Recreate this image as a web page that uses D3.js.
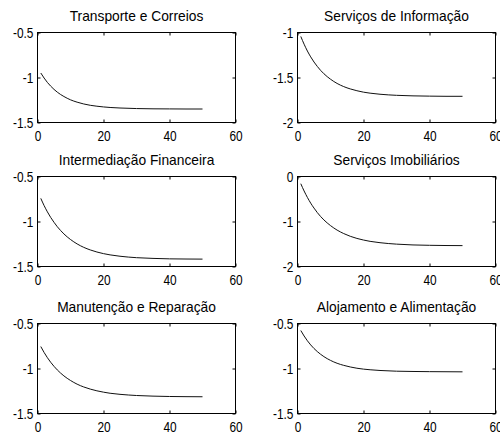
<!DOCTYPE html>
<html lang="en">
<head>
<meta charset="UTF-8">
<title>Respostas acumuladas por setor</title>
<script src="https://d3js.org/d3.v7.min.js"></script>
<style>
    body { margin: 0; background: #fff; }
    svg { display: block; font-family: "Liberation Sans", Arial, sans-serif; }
    .tick text { fill: #000; font-size: 14.5px; }
    .tick line { stroke: #000; }
    .title { font-size: 15px; fill: #000; }
</style>
</head>
<body>
<svg id="chart" width="500" height="435"></svg>
<script>
// horizons shared by all panels
const steps = [1, 2, 3, 4, 5, 6, 7, 8, 10, 12, 14, 16, 18, 20, 22, 25, 30, 35, 40, 45, 50];

const transporte = [-0.95, -1.006, -1.055, -1.096, -1.132, -1.163, -1.189, -1.211, -1.248, -1.274, -1.294, -1.309, -1.319, -1.327, -1.333, -1.339, -1.345, -1.348, -1.349, -1.35, -1.35];
const informacao = [-1.044, -1.13, -1.206, -1.271, -1.328, -1.377, -1.421, -1.458, -1.519, -1.566, -1.601, -1.627, -1.647, -1.663, -1.674, -1.686, -1.698, -1.704, -1.707, -1.709, -1.709];
const financeira = [-0.743, -0.823, -0.893, -0.955, -1.009, -1.058, -1.1, -1.138, -1.2, -1.249, -1.287, -1.316, -1.339, -1.357, -1.371, -1.386, -1.402, -1.41, -1.415, -1.417, -1.418];
const imobiliarios = [-0.16, -0.322, -0.465, -0.592, -0.702, -0.802, -0.889, -0.965, -1.091, -1.191, -1.268, -1.329, -1.376, -1.412, -1.441, -1.471, -1.503, -1.521, -1.529, -1.534, -1.536];
const manutencao = [-0.756, -0.822, -0.88, -0.931, -0.976, -1.016, -1.051, -1.082, -1.133, -1.174, -1.205, -1.229, -1.248, -1.263, -1.275, -1.287, -1.3, -1.307, -1.311, -1.313, -1.314];
const alojamento = [-0.578, -0.639, -0.692, -0.738, -0.778, -0.812, -0.842, -0.868, -0.91, -0.942, -0.965, -0.983, -0.997, -1.007, -1.014, -1.022, -1.03, -1.033, -1.035, -1.036, -1.037];

const titles = ["Transporte e Correios", "Serviços de Informação", "Intermediação Financeira",
                "Serviços Imobiliários", "Manutenção e Reparação", "Alojamento e Alimentação"];
const series = [transporte, informacao, financeira, imobiliarios, manutencao, alojamento];
const yDomains = [[-1.5, -0.5], [-2, -1], [-1.5, -0.5], [-2, 0], [-1.5, -0.5], [-1.5, -0.5]];
const yTicks = [[-1.5, -1, -0.5], [-2, -1.5, -1], [-1.5, -1, -0.5], [-2, -1, 0], [-1.5, -1, -0.5], [-1.5, -1, -0.5]];
const xDomain = [0, 60];
const xTicks = [0, 20, 40, 60];

const svg = d3.select("#chart");
const colLeft = [37, 297];
const rowTop = [32, 176, 323];
const pw = 198, ph = 90;

series.forEach((values, i) => {
    const g = svg.append("g")
        .attr("transform", `translate(${colLeft[i % 2] + 0.5},${rowTop[Math.floor(i / 2)] + 0.5})`);

    const x = d3.scaleLinear().domain(xDomain).range([0, pw]);
    const y = d3.scaleLinear().domain(yDomains[i]).range([ph, 0]);
    const fmt = d => String(d);

    // ticks point inward on all four sides
    g.append("g").attr("transform", `translate(0,${ph})`)
        .call(d3.axisBottom(x).tickValues(xTicks).tickSize(-3).tickPadding(8).tickFormat(fmt))
        .call(a => a.select(".domain").remove());
    g.append("g")
        .call(d3.axisTop(x).tickValues(xTicks).tickSize(-3).tickFormat(""))
        .call(a => a.select(".domain").remove());
    g.append("g")
        .call(d3.axisLeft(y).tickValues(yTicks[i]).tickSize(-3).tickPadding(5).tickFormat(fmt))
        .call(a => a.select(".domain").remove());
    g.append("g").attr("transform", `translate(${pw},0)`)
        .call(d3.axisRight(y).tickValues(yTicks[i]).tickSize(-3).tickFormat(""))
        .call(a => a.select(".domain").remove());

    // the original's labels are a narrow face
    g.selectAll(".tick text")
        .attr("font-family", null).attr("font-size", null)
        .attr("transform", "scale(0.82,1)");

    g.append("rect")
        .attr("width", pw).attr("height", ph)
        .attr("fill", "none").attr("stroke", "#000");

    const line = d3.line()
        .x((d, k) => x(steps[k]))
        .y(d => y(d))
        .curve(d3.curveMonotoneX);

    g.append("path")
        .datum(values)
        .attr("d", line)
        .attr("fill", "none")
        .attr("stroke", "#111")
        .attr("stroke-width", 1);

    g.append("text")
        .attr("class", "title")
        .attr("transform", `translate(${pw / 2},-12) scale(0.92,1)`)
        .attr("text-anchor", "middle")
        .text(titles[i]);
});
</script>
</body>
</html>
